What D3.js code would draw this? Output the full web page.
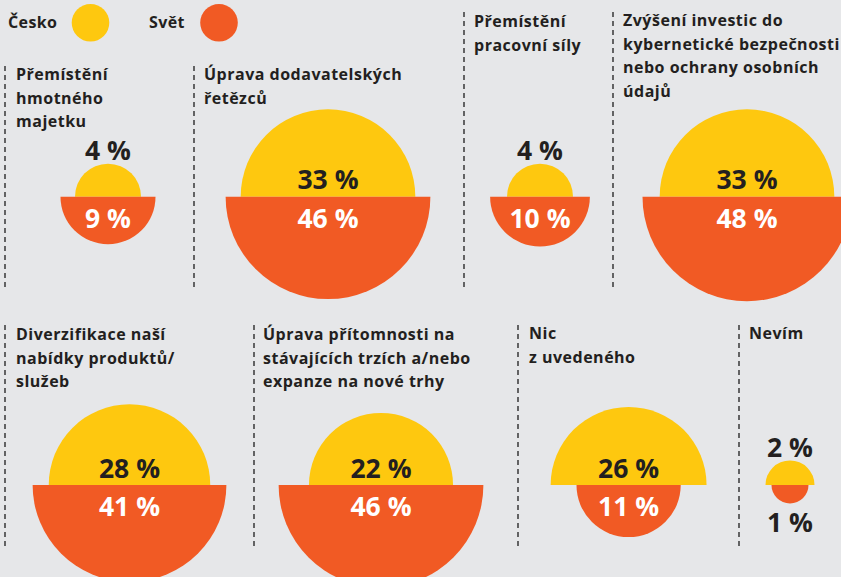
<!DOCTYPE html>
<html>
<head>
<meta charset="utf-8">
<script src="https://cdn.jsdelivr.net/npm/d3@7"></script>
<style>
  html, body { margin: 0; padding: 0; background: #e6e7e9; }
  svg { display: block; }
  text { font-family: "Open Sans", "Noto Sans", sans-serif; font-weight: 700; }
</style>
</head>
<body>
<svg id="chart" width="841" height="577"></svg>
<script>
// ---- data ----
const categories = [
  ["Přemístění", "hmotného", "majetku"],
  ["Úprava dodavatelských", "řetězců"],
  ["Přemístění", "pracovní síly"],
  ["Zvýšení investic do", "kybernetické bezpečnosti", "nebo ochrany osobních", "údajů"],
  ["Diverzifikace naší", "nabídky produktů/", "služeb"],
  ["Úprava přítomnosti na", "stávajících trzích a/nebo", "expanze na nové trhy"],
  ["Nic", "z uvedeného"],
  ["Nevím"]
];
const cesko = [4, 33, 4, 33, 28, 22, 26, 2];
const svet  = [9, 46, 10, 48, 41, 46, 11, 1];
const seriesNames = ["Česko", "Svět"];

// ---- layout (positions only) ----
const COLORS = { cesko: "#fec80f", svet: "#f15a24", text: "#231f20", bg: "#e6e7e9" };
const rowLayout = [
  { baseline: 196.7, dashBottom: 288 },
  { baseline: 485,   dashBottom: 548 }
];
const panelLayout = [
  { row: 0, sep: 5,   tx: 16,  ty: 80,  cx: 108,   dashTop: 66 },
  { row: 0, sep: 194, tx: 204, ty: 80,  cx: 328,   dashTop: 66 },
  { row: 0, sep: 464, tx: 474, ty: 27,  cx: 540,   dashTop: 12 },
  { row: 0, sep: 613, tx: 623, ty: 26,  cx: 747,   dashTop: 12 },
  { row: 1, sep: 5,   tx: 16,  ty: 340, cx: 129.5, dashTop: 325 },
  { row: 1, sep: 254, tx: 263, ty: 340, cx: 381,   dashTop: 325 },
  { row: 1, sep: 518, tx: 529, ty: 339, cx: 628.6, dashTop: 325 },
  { row: 1, sep: 739, tx: 749, ty: 339, cx: 790,   dashTop: 325 }
];
const lineH = 23.5;

const svg = d3.select("#chart");
svg.append("rect").attr("width", 841).attr("height", 577).attr("fill", COLORS.bg);

const r = d3.scaleSqrt().domain([0, d3.max(svet.concat(cesko))]).range([4, 104.5]);
const color = d3.scaleOrdinal().domain(seriesNames).range([COLORS.cesko, COLORS.svet]);

// legend
const legend = svg.append("g");
const legendItems = [{ name: seriesNames[0], x: 8, cx: 90.5 }, { name: seriesNames[1], x: 149, cx: 219 }];
legendItems.forEach(d => {
  legend.append("text").attr("x", d.x).attr("y", 27.5).attr("font-size", 16)
    .attr("letter-spacing", 0.4)
    .attr("fill", COLORS.text).text(d.name);
  legend.append("circle").attr("cx", d.cx).attr("cy", 22.8).attr("r", 18.8).attr("fill", color(d.name));
});

const fmt = v => v + " %";
const arcTop = d3.arc().innerRadius(0).startAngle(-Math.PI / 2).endAngle(Math.PI / 2);
const arcBottom = d3.arc().innerRadius(0).startAngle(Math.PI / 2).endAngle(3 * Math.PI / 2);

categories.forEach((lines, i) => {
  const L = panelLayout[i];
  const row = rowLayout[L.row];
  const g = svg.append("g");

  // dashed separator
  g.append("line")
    .attr("x1", L.sep).attr("x2", L.sep)
    .attr("y1", L.dashTop).attr("y2", row.dashBottom)
    .attr("stroke", "#2b2b2b").attr("stroke-width", 1.4)
    .attr("stroke-dasharray", "5,4");

  // title
  const t = g.append("text").attr("x", L.tx).attr("y", L.ty)
    .attr("font-size", 16).attr("letter-spacing", 0.5).attr("fill", COLORS.text);
  lines.forEach((ln, j) => {
    t.append("tspan").attr("x", L.tx).attr("y", L.ty + j * lineH).text(ln);
  });

  // semicircles
  const ry = r(cesko[i]), rs = r(svet[i]);
  const c = g.append("g").attr("transform", `translate(${L.cx},${row.baseline})`);
  c.append("path").attr("d", arcTop.outerRadius(ry)()).attr("fill", color(seriesNames[0]));
  c.append("path").attr("d", arcBottom.outerRadius(rs)()).attr("fill", color(seriesNames[1]));

  // labels
  const yInside = ry >= 40;
  c.append("text").attr("text-anchor", "middle").attr("font-size", 26.5)
    .attr("font-weight", 800)
    .attr("fill", COLORS.text)
    .attr("y", yInside ? -7.5 : -ry - 4)
    .text(fmt(cesko[i]));
  const sInside = rs >= 30;
  c.append("text").attr("text-anchor", "middle").attr("font-size", 26.5)
    .attr("font-weight", 800)
    .attr("fill", sInside ? "#ffffff" : COLORS.text)
    .attr("y", sInside ? 31 : rs + 28)
    .text(fmt(svet[i]));
});
</script>
</body>
</html>
